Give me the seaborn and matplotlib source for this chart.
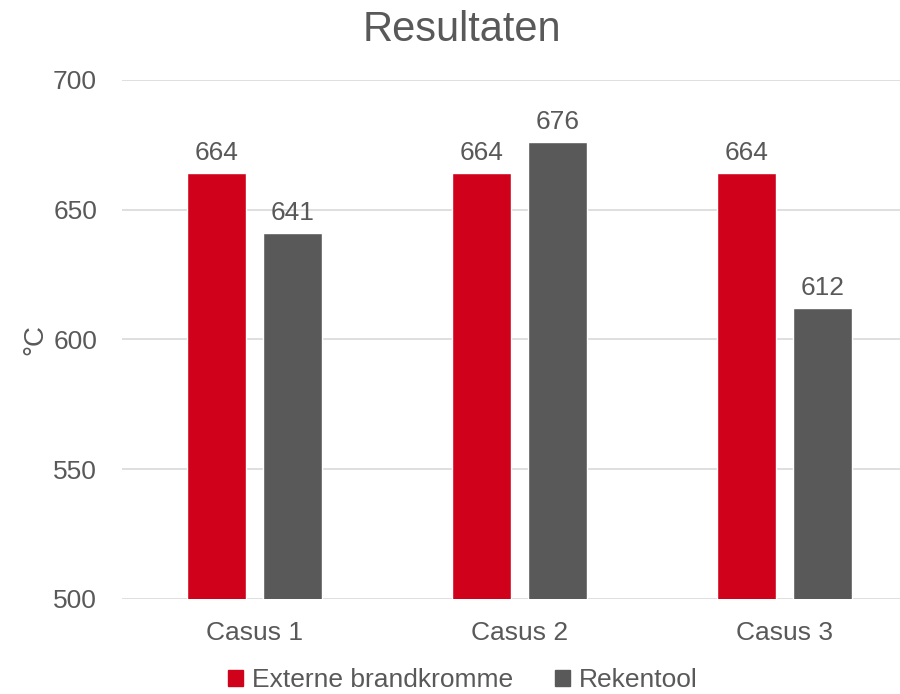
import pandas as pd
import seaborn as sns
import matplotlib.pyplot as plt

# values
cases = ["Casus 1", "Casus 2", "Casus 3"]
externe = [664, 664, 664]
rekentool = [641, 676, 612]
series_names = ["Externe brandkromme", "Rekentool"]
colors = ["#D0021B", "#595959"]
text_color = "#595959"

df = pd.DataFrame({
    "case": cases * 2,
    "value": externe + rekentool,
    "series": [series_names[0]] * 3 + [series_names[1]] * 3,
})

sns.set_style("white")
plt.rcParams["font.family"] = ["Liberation Sans", "DejaVu Sans"]

fig = plt.figure(figsize=(9, 6.94), dpi=100)
ax = fig.add_axes([122 / 900, (694 - 599) / 694, 795 / 900, (599 - 80) / 694])

sns.barplot(data=df, x="case", y="value", hue="series", palette=colors,
            width=0.574, gap=0.224, saturation=1, ax=ax, legend=False)

ax.set_ylim(500, 700)
ax.set_yticks([500, 550, 600, 650, 700])
ax.yaxis.grid(True, color="#D9D9D9", linewidth=1.2)
ax.set_axisbelow(True)
for s in ax.spines.values():
    s.set_visible(False)
ax.tick_params(axis="both", length=0, labelsize=19, labelcolor=text_color)
ax.tick_params(axis="y", pad=18)
ax.tick_params(axis="x", pad=16)
ax.set_xlabel("")
ax.set_ylabel("°C", fontsize=20, color=text_color)
ax.yaxis.set_label_coords(-0.093, 0.5)
fig.suptitle("Resultaten", x=462 / 900, y=0.985, va="top", fontsize=30, color=text_color)

for cont in ax.containers:
    ax.bar_label(cont, fmt="%d", fontsize=19, color=text_color, padding=6)

handles = [plt.Rectangle((0, 0), 1, 1, color=c) for c in colors]
fig.legend(handles, series_names, loc="center", bbox_to_anchor=(463 / 900, 0.02),
           ncol=2, frameon=False, fontsize=19, labelcolor=text_color,
           handlelength=0.55, handleheight=0.55, handletextpad=0.35, columnspacing=1.6)

fig.savefig("out.png", dpi=100)
